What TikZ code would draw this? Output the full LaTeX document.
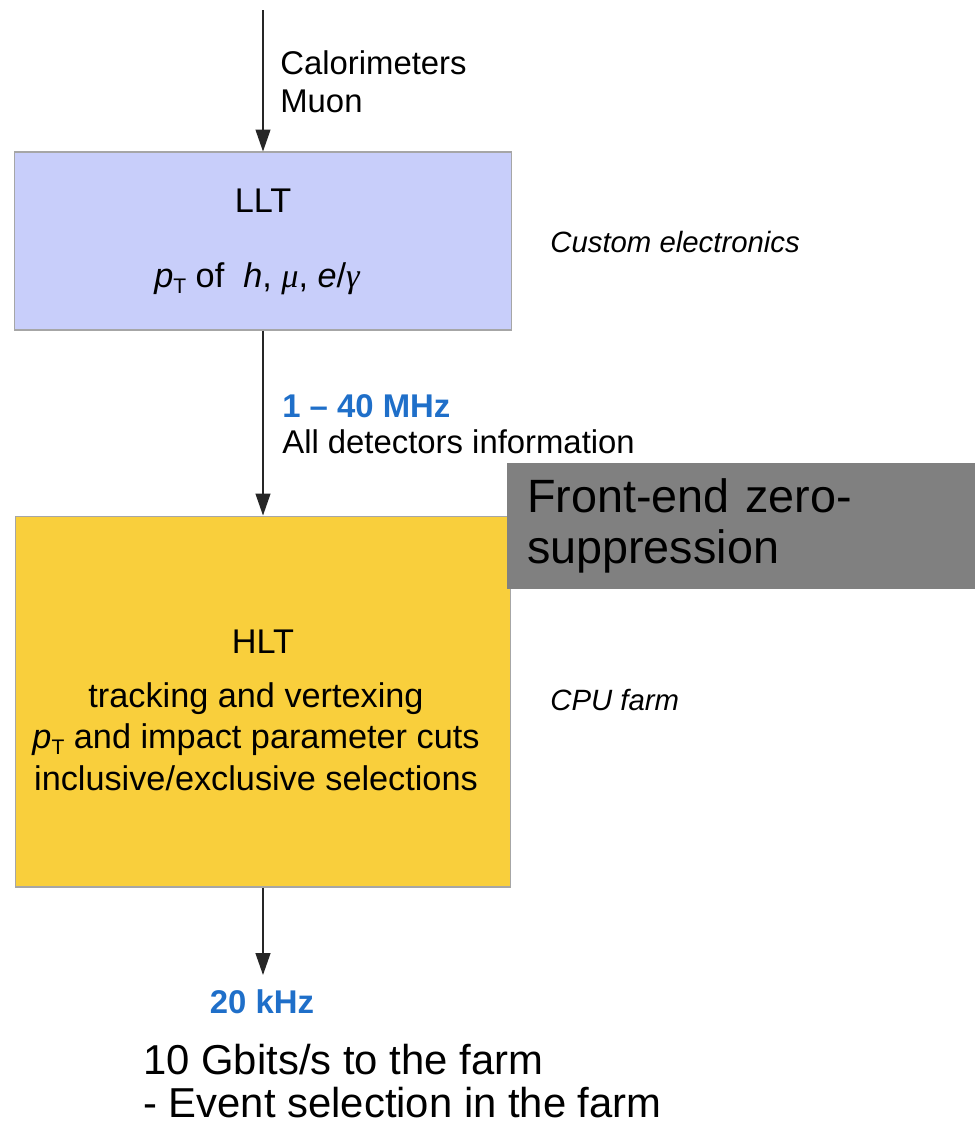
\documentclass[tikz,border=0pt]{standalone}
\usepackage{fontspec}
\setmainfont{Liberation Sans}
\newfontfamily\greekfont{Liberation Serif}
\usetikzlibrary{arrows.meta}

\definecolor{lltblue}{RGB}{200,206,250}
\definecolor{hltyellow}{RGB}{249,207,60}
\definecolor{zsgray}{RGB}{128,128,128}
\definecolor{rateblue}{RGB}{31,111,201}

\newcommand\pT{\textit{p}\raisebox{-0.35ex}{\fontsize{12}{12}\selectfont T}}
\newcommand\grk[1]{{\greekfont\itshape #1}}

\tikzset{
  trigbox/.style={draw=black!35, line width=0.6pt, inner sep=0pt},
  txt/.style={font=\fontsize{18.7}{22}\selectfont, inner sep=0pt},
  boxtxt/.style={font=\fontsize{19.5}{23}\selectfont, inner sep=0pt},
  note/.style={font=\fontsize{16.7}{20}\selectfont\itshape, inner sep=0pt},
  rate/.style={font=\fontsize{18.7}{22}\selectfont\bfseries, text=rateblue, inner sep=0pt},
  flow/.style={-{Triangle[width=8.5pt,length=12.5pt]}, line width=0.8pt, draw=black!85}
}

\begin{document}
\begin{tikzpicture}[x=0.02cm, y=-0.02cm]
        \useasboundingbox (0,0) rectangle (975,1127);

        % trigger levels
        \node[trigbox, fill=lltblue, minimum width=9.96cm, minimum height=3.56cm] (llt) at (263,241) {};
        \node[trigbox, fill=hltyellow, minimum width=9.92cm, minimum height=7.42cm] (hlt) at (263,701.5) {};
        \node[fill=zsgray, minimum width=9.36cm, minimum height=2.52cm, inner xsep=0.4cm,
              text width=8.56cm, align=left, font=\fontsize{26.6}{29}\selectfont] (zs) at (741,526)
              {Front-end zero-\\suppression};

        \coordinate (in) at (263,10);
        \coordinate (out) at (263,975);

        \draw[flow] (in) -- (llt.north);
        \draw[flow] (llt.south) -- (llt.south |- hlt.north);
        \draw[flow] (hlt.south) -- (out);

        % inputs
        \node[txt, anchor=base west] (calo) at (280,74) {Calorimeters};
        \node[txt, anchor=base west] (muon) at (280,112) {Muon};

        % LLT
        \node[boxtxt, anchor=base] (lltname) at (263,212) {LLT};
        \node[boxtxt, anchor=base] (lltcut) at (257,287) {\pT\ of\ \ \textit{h}, \grk{μ}, \textit{e}/\grk{γ}};
        \node[note, anchor=base west] (custom) at (550,252) {Custom electronics};

        % LLT output
        \node[rate, anchor=base west] (mhz) at (282,417) {1 -- 40 MHz};
        \node[txt, anchor=base west] (alldet) at (282,453) {All detectors information};

        % HLT
        \node[boxtxt, anchor=base] (hltname) at (263,653) {HLT};
        \node[boxtxt, anchor=base] (track) at (256,707) {tracking and vertexing};
        \node[boxtxt, anchor=base] (ipcut) at (256,748) {\pT\ and impact parameter cuts};
        \node[boxtxt, anchor=base] (incl) at (256,790) {inclusive/exclusive selections};
        \node[note, anchor=base west] (cpu) at (550,710) {CPU farm};

        % HLT output
        \node[rate, anchor=base] (khz) at (262,1013) {20 kHz};
        \node[txt, font=\fontsize{23.8}{26}\selectfont, anchor=base west] (gbit) at (143,1074) {10 Gbits/s to the farm};
        \node[txt, font=\fontsize{23.8}{26}\selectfont, anchor=base west] (evsel) at (143,1117) {- Event selection in the farm};
    \end{tikzpicture}
\end{document}
